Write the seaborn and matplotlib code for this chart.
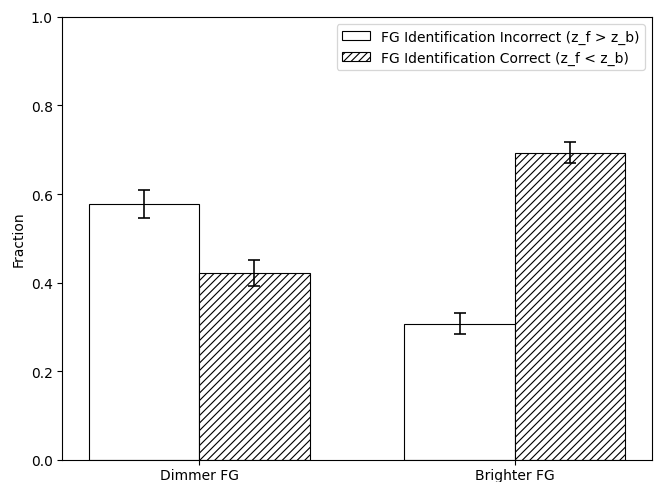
import matplotlib
matplotlib.use("Agg")
import matplotlib.pyplot as plt
import seaborn as sns
import pandas as pd

groups = ["Dimmer FG", "Brighter FG"]
outcomes = ["FG Identification Incorrect (z_f > z_b)",
            "FG Identification Correct (z_f < z_b)"]
incorrect = [0.578, 0.307]
correct = [0.422, 0.693]
incorrect_err = [0.031, 0.024]
correct_err = [0.030, 0.024]

df = pd.DataFrame({
    "group": groups * 2,
    "outcome": [outcomes[0]] * 2 + [outcomes[1]] * 2,
    "fraction": incorrect + correct,
})

DPI = 90
S = 100 / DPI  # keep pixel sizes comparable to a 100 dpi render

plt.rcParams.update({
    "hatch.linewidth": 0.9,
    "font.size": 10 * S,
    "axes.linewidth": 0.8 * S,
    "xtick.major.width": 0.8 * S,
    "ytick.major.width": 0.8 * S,
    "xtick.major.size": 3.5 * S,
    "ytick.major.size": 3.5 * S,
})

fig = plt.figure(figsize=(656 / DPI, 483 / DPI), dpi=DPI)
ax = fig.add_axes([0.0945, 0.0460, 0.8995, 0.9170])

sns.barplot(data=df, x="group", y="fraction", hue="outcome",
            hue_order=outcomes, order=groups, errorbar=None,
            palette=["white", "white"], edgecolor="black", linewidth=0.8 * S,
            width=0.7, gap=0, saturation=1, ax=ax)

hatches = ["", "////"]
for container, hatch, vals, errs in zip(ax.containers, hatches,
                                        [incorrect, correct],
                                        [incorrect_err, correct_err]):
    xs = []
    for bar in container:
        bar.set_hatch(hatch)
        xs.append(bar.get_x() + bar.get_width() / 2)
    ax.errorbar(xs, vals, yerr=errs, fmt="none", ecolor="black",
                elinewidth=1.3, capsize=4.4, capthick=1.3)

handles = ax.get_legend().legend_handles
ax.legend(handles=handles, labels=outcomes, loc="upper right",
          fontsize=10 * S)
for h, hatch in zip(ax.get_legend().legend_handles, hatches):
    h.set_hatch(hatch)

ax.set_ylim(0, 1.0)
ax.set_xlim(-0.435, 1.435)
ax.set_xlabel("")
ax.set_ylabel("Fraction")
ax.tick_params(axis="x", pad=2.5 * S)

fig.savefig("out.png", dpi=DPI)
